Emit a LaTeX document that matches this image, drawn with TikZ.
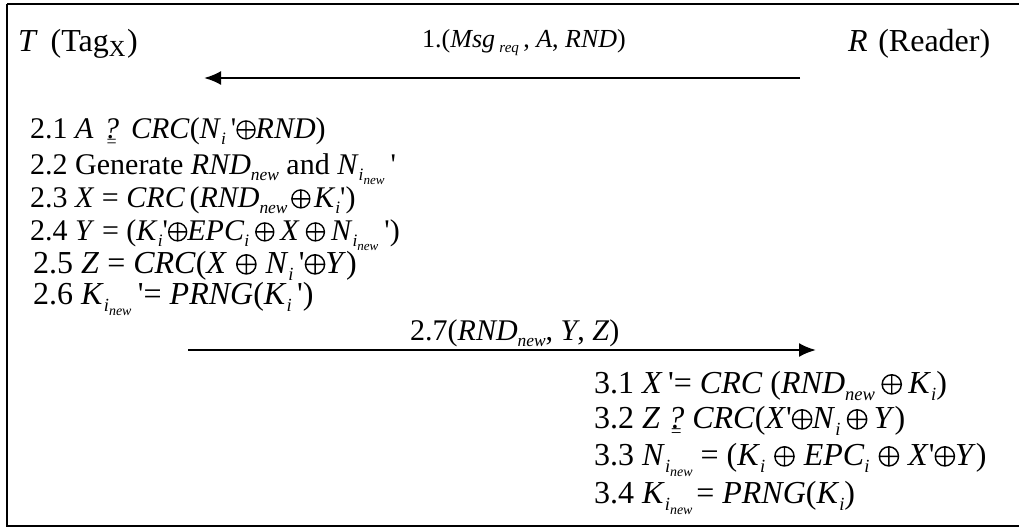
\documentclass[tikz,border=0pt]{standalone}
\usepackage{fontspec}
\setmainfont{Liberation Serif}
\usetikzlibrary{arrows.meta}

% italic variable names, subscripts and operators
\newcommand\iv[1]{\textit{#1}}
\newcommand\lo[1]{\raisebox{-0.22em}{\fontsize{0.58em}{0.6em}\selectfont\itshape #1}}
\newcommand\llo[1]{\raisebox{-0.25em}{\fontsize{0.75em}{0.8em}\selectfont\itshape #1}}
\newcommand\inew{\lo{i\llo{new}}}
\newcommand\pr{\textquotesingle}
\newcommand\xo{\tikz[baseline=0pt]{\draw[line width=0.045em] (0.33em,0.27em) circle[radius=0.3em] (0.03em,0.27em) -- (0.63em,0.27em) (0.33em,-0.03em) -- (0.33em,0.57em);}}
\newcommand\xt{\hspace{0.12em}\xo\hspace{0.12em}}
\newcommand\xs{\hspace{0.2em}\xo\hspace{0.2em}}
\newcommand\xw{\hspace{0.28em}\xo\hspace{0.28em}}
\newcommand\eqs{=}
\newcommand\qeq{{\ooalign{\textit{?}\cr\hidewidth\raisebox{-0.3em}{\fontsize{0.6em}{0.6em}\selectfont=}\hidewidth\cr}}}

\begin{document}
\begin{tikzpicture}[x=1pt,y=-1pt,
  hd/.style={anchor=base west,inner sep=0pt,font=\fontsize{32}{36}\selectfont},
  st/.style={anchor=base west,inner sep=0pt,font=\fontsize{30}{33}\selectfont},
  stb/.style={st,font=\fontsize{32}{34}\selectfont},
  msg/.style={anchor=base west,inner sep=0pt,font=\fontsize{26}{30}\selectfont},
  flow/.style={line width=2.4pt,-{Latex[length=17pt,width=14pt]}}]
  \useasboundingbox (0,0) rectangle (1019,528);
  \draw[line width=2pt] (7,4) -- (1030,4) (7,4) -- (7,526) -- (1030,526);

  % parties
  \node[hd] (tag) at (18,51) {\iv{T}\hspace{0.15em} (Tag\raisebox{-0.18em}{\fontsize{23}{23}\selectfont X}\hspace{0.05em})};
  \node[hd] (rdr) at (848,51) {\iv{R}\hspace{0.08em} (Reader)};

  % first message: reader to tag
  \node[msg] (m1) at (422,47) {1.(\iv{Msg}\,\lo{req}\,, \iv{A}, \iv{RND})};
  \coordinate (m1s) at (800,78);
  \coordinate (m1e) at (204,78);
  \draw[flow] (m1s) -- (m1e);

  % tag side computations
  \node[st] (s21) at (30,138) {2.1 \iv{A}\hspace{0.1em} \qeq\hspace{0.15em} \iv{CRC}(\iv{N}\lo{i}\,\pr\xo\iv{RND})};
  \node[st] (s22) at (30,174) {2.2 Generate \iv{RND}\lo{new} and \iv{N}\inew\hspace{0.2em}\pr};
  \node[st] (s23) at (30,207) {2.3 \iv{X} \eqs\ \iv{CRC}\hspace{0.15em}(\iv{RND}\lo{new}\xt\iv{K}\lo{i}\pr)};
  \node[st] (s24) at (30,240) {2.4 \iv{Y} \eqs\ (\iv{K}\lo{i}\pr\xo\iv{EPC}\lo{i}\xs\iv{X}\xs\iv{N}\inew\hspace{0.2em}\pr)};
  \node[stb] (s25) at (33,273) {2.5 \iv{Z} \eqs\ \iv{CRC}(\iv{X}\xw\iv{N}\lo{i}\,\pr\xo\iv{Y})};
  \node[stb] (s26) at (33,304) {2.6 \iv{K}\inew\hspace{0.2em}\pr\eqs\ \iv{PRNG}(\iv{K}\lo{i}\,\pr)};

  % second message: tag to reader
  \node[st] (m2) at (410,340) {2.7(\iv{RND}\lo{new}, \iv{Y}, \iv{Z})};
  \coordinate (m2s) at (188,350);
  \coordinate (m2e) at (816,350);
  \draw[flow] (m2s) -- (m2e);

  % reader side computations
  \node[stb] (s31) at (594,393) {3.1 \iv{X}\,\pr\eqs\ \iv{CRC} (\iv{RND}\lo{new}\xs\iv{K}\lo{i})};
  \node[stb] (s32) at (594,428) {3.2 \iv{Z} \qeq\ \iv{CRC}(\iv{X}\pr\xo\iv{N}\lo{i}\xs\iv{Y})};
  \node[stb] (s33) at (594,465) {3.3 \iv{N}\inew\ \eqs\ (\iv{K}\lo{i}\xw\iv{EPC}\lo{i}\xw\iv{X}\pr\xo\iv{Y})};
  \node[stb] (s34) at (594,503) {3.4 \iv{K}\inew\hspace{0.12em}\eqs\ \iv{PRNG}(\iv{K}\lo{i})};
\end{tikzpicture}
\end{document}
